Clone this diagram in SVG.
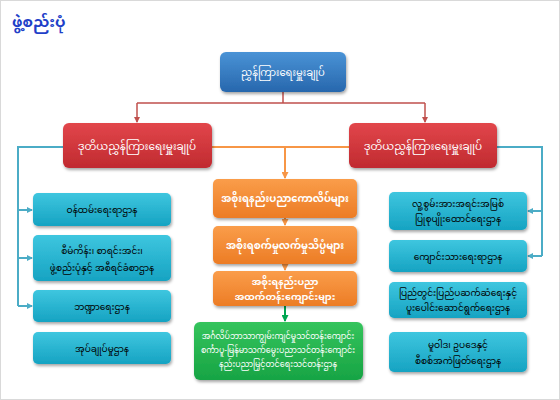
<svg xmlns="http://www.w3.org/2000/svg" width="560" height="400" viewBox="0 0 560 400">
<defs>
<linearGradient id="gBlue" x1="0" y1="0" x2="0" y2="1"><stop offset="0" stop-color="#4a93d6"/><stop offset="1" stop-color="#2767ad"/></linearGradient>
<linearGradient id="gRed" x1="0" y1="0" x2="0" y2="1"><stop offset="0" stop-color="#e2464b"/><stop offset="1" stop-color="#c02a30"/></linearGradient>
<linearGradient id="gOrange" x1="0" y1="0" x2="0" y2="1"><stop offset="0" stop-color="#fa9d4a"/><stop offset="1" stop-color="#ec7c25"/></linearGradient>
<linearGradient id="gCyan" x1="0" y1="0" x2="0" y2="1"><stop offset="0" stop-color="#3ec6df"/><stop offset="1" stop-color="#16a3c2"/></linearGradient>
<linearGradient id="gGreen" x1="0" y1="0" x2="0" y2="1"><stop offset="0" stop-color="#35c45c"/><stop offset="1" stop-color="#17a444"/></linearGradient>
<filter id="sh" x="-10%" y="-10%" width="125%" height="135%"><feDropShadow dx="1" dy="2" stdDeviation="1.5" flood-color="#000" flood-opacity="0.35"/></filter>
<marker id="aRed" markerWidth="6" markerHeight="6" refX="5" refY="3" orient="auto" markerUnits="userSpaceOnUse"><path d="M0,0 L6,3 L0,6 Z" fill="#c0504d"/></marker>
<marker id="aOr" markerWidth="7" markerHeight="7" refX="6" refY="3.5" orient="auto" markerUnits="userSpaceOnUse"><path d="M0,0 L7,3.5 L0,7 Z" fill="#f79646"/></marker>
<marker id="aCy" markerWidth="6" markerHeight="6" refX="5" refY="3" orient="auto" markerUnits="userSpaceOnUse"><path d="M0,0 L6,3 L0,6 Z" fill="#4bacc6"/></marker>
<marker id="aGr" markerWidth="7" markerHeight="7" refX="6" refY="3.5" orient="auto" markerUnits="userSpaceOnUse"><path d="M0,0 L7,3.5 L0,7 Z" fill="#00a651"/></marker>
</defs>
<style>
text{font-family:"Noto Sans Myanmar","Padauk","Myanmar Text","Noto Sans",sans-serif;text-anchor:middle}
.w{fill:#ffffff;font-size:10px}
.r{fill:#ffffff;font-size:10.5px}
.b{fill:#000000;font-size:9px}
.g{fill:#ffffff;font-size:8px}
.box{filter:url(#sh)}
.cr{stroke:#c0504d;stroke-width:1.5;fill:none}
.co{stroke:#f79646;stroke-width:2;fill:none}
.cc{stroke:#4bacc6;stroke-width:2;fill:none}
.cg{stroke:#00a651;stroke-width:2;fill:none}
</style>
<rect x="0.5" y="0.5" width="559" height="399" fill="#ffffff" stroke="#d9d9d9"/>
<text x="12" y="27" style="text-anchor:start;font-size:15px;font-weight:bold;fill:#1e3fc8">ဖွဲ့စည်းပုံ</text>
<g id="connectors">
<path class="cr" d="M283,92 V103 M137,103 H425"/>
<path class="cr" d="M137,103 V122" marker-end="url(#aRed)"/>
<path class="cr" d="M425,103 V122" marker-end="url(#aRed)"/>
<path class="co" d="M212,147 H349"/>
<path class="co" d="M285,147 V178" marker-end="url(#aOr)"/>
<path class="co" d="M285,218 V225" marker-end="url(#aOr)"/>
<path class="co" d="M285,264 V270" marker-end="url(#aOr)"/>
<path class="cg" d="M285,306 V321" marker-end="url(#aGr)"/>
<path class="cc" d="M63,147 H18 V306"/>
<path class="cc" d="M18,210 H32" marker-end="url(#aCy)"/>
<path class="cc" d="M18,258 H32" marker-end="url(#aCy)"/>
<path class="cc" d="M18,306 H32" marker-end="url(#aCy)"/>
<path class="cc" d="M497,147 H542 V256"/>
<path class="cc" d="M542,211 H528" marker-end="url(#aCy)"/>
<path class="cc" d="M542,256 H528" marker-end="url(#aCy)"/>
</g>
<g id="director-general"><rect class="box" x="220" y="52" width="126" height="40" rx="6" fill="url(#gBlue)"/><text class="w" x="283" y="76">ညွှန်ကြားရေးမှူးချုပ်</text></g>
<g id="deputy-left"><rect class="box" x="63" y="123" width="149" height="45" rx="6" fill="url(#gRed)"/><text class="r" x="137" y="150">ဒုတိယညွှန်ကြားရေးမှူးချုပ်</text></g>
<g id="deputy-right"><rect class="box" x="349" y="123" width="148" height="45" rx="6" fill="url(#gRed)"/><text class="r" x="423" y="150">ဒုတိယညွှန်ကြားရေးမှူးချုပ်</text></g>
<g id="colleges"><rect class="box" x="213" y="179" width="144" height="39" rx="5" fill="url(#gOrange)"/><text class="w" x="285" y="202" font-weight="bold">အစိုးရနည်းပညာကောလိပ်များ</text></g>
<g id="institutes"><rect class="box" x="213" y="226" width="144" height="38" rx="5" fill="url(#gOrange)"/><text class="w" x="285" y="249" font-weight="bold">အစိုးရစက်မှုလက်မှုသိပ္ပံများ</text></g>
<g id="high-schools"><rect class="box" x="213" y="271" width="144" height="35" rx="5" fill="url(#gOrange)"/><text class="w" x="285" y="285" font-weight="bold" style="font-size:9.5px">အစိုးရနည်းပညာ</text><text class="w" x="285" y="300" font-weight="bold" style="font-size:9.5px">အထက်တန်းကျောင်းများ</text></g>
<g id="training"><rect class="box" x="194" y="322" width="169" height="58" rx="6" fill="url(#gGreen)"/><text class="g" x="278" y="339">အင်္ဂလိပ်ဘာသာကျွမ်းကျင်မှုသင်တန်းကျောင်း</text><text class="g" x="278" y="353">စင်္ကာပူ-မြန်မာသက်မွေးပညာသင်တန်းကျောင်း</text><text class="g" x="278" y="367">နည်းပညာမြှင့်တင်ရေးသင်တန်းဌာန</text></g>
<g id="staff"><rect class="box" x="33" y="193" width="138" height="33" rx="5" fill="url(#gCyan)"/><text class="b" x="102" y="213">ဝန်ထမ်းရေးရာဌာန</text></g>
<g id="planning"><rect class="box" x="33" y="235" width="138" height="46" rx="5" fill="url(#gCyan)"/><text class="b" x="102" y="254">စီမံကိန်း၊ စာရင်းအင်း၊</text><text class="b" x="102" y="271">ဖွဲ့စည်းပုံနှင့် အစီရင်ခံစာဌာန</text></g>
<g id="finance"><rect class="box" x="33" y="290" width="138" height="32" rx="5" fill="url(#gCyan)"/><text class="b" x="102" y="310">ဘဏ္ဍာရေးဌာန</text></g>
<g id="admin"><rect class="box" x="33" y="332" width="138" height="32" rx="5" fill="url(#gCyan)"/><text class="b" x="102" y="352">အုပ်ချုပ်မှုဌာန</text></g>
<g id="hrd"><rect class="box" x="389" y="192" width="138" height="38" rx="5" fill="url(#gCyan)"/><text class="b" x="458" y="207">လူ့စွမ်းအားအရင်းအမြစ်</text><text class="b" x="458" y="222">ပြုစုပျိုးထောင်ရေးဌာန</text></g>
<g id="students"><rect class="box" x="389" y="240" width="138" height="32" rx="5" fill="url(#gCyan)"/><text class="b" x="458" y="260">ကျောင်းသားရေးရာဌာန</text></g>
<g id="relations"><rect class="box" x="389" y="282" width="138" height="36" rx="5" fill="url(#gCyan)"/><text class="b" x="458" y="296">ပြည်တွင်းပြည်ပဆက်ဆံရေးနှင့်</text><text class="b" x="458" y="311">ပူးပေါင်းဆောင်ရွက်ရေးဌာန</text></g>
<g id="policy"><rect class="box" x="389" y="332" width="138" height="40" rx="5" fill="url(#gCyan)"/><text class="b" x="458" y="348">မူဝါဒ၊ ဥပဒေနှင့်</text><text class="b" x="458" y="364">စီစစ်အကဲဖြတ်ရေးဌာန</text></g>
</svg>
